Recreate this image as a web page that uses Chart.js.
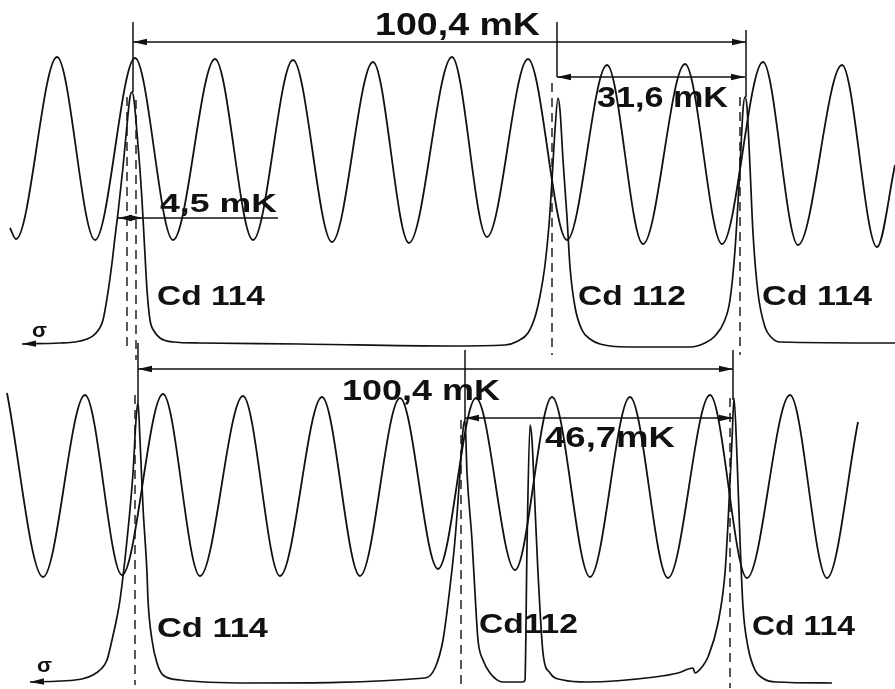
<!DOCTYPE html>
<html>
<head>
<meta charset="utf-8">
<script src="https://cdn.jsdelivr.net/npm/chart.js@4.4.1/dist/chart.umd.min.js"></script>
<style>
  html, body { margin: 0; padding: 0; background: #fff; overflow: hidden; }
  #wrap { width: 895px; height: 689px; position: relative; }
</style>
</head>
<body>
<div id="wrap"><canvas id="chart"></canvas></div>
<script>
// recorder trace (x = chart position, y = pen height, y grows downwards)

// Fabry-Perot fringes, top recording (start, then troughs and peaks alternately)
const topFringeX = [10, 16, 57, 95, 135, 173, 215, 253, 293, 332, 373, 409, 452, 487, 528, 567, 607, 643, 685, 722, 763, 798, 842, 877, 895];
const topFringeY = [228, 239, 57, 240, 58, 240, 59, 240, 60, 242, 62, 243, 57, 237, 59, 240, 65, 244, 64, 244, 62, 245, 65, 247, 165];

// Fabry-Perot fringes, bottom recording
const botFringeX = [7, 43, 85, 122, 163, 200, 243, 280, 322, 360, 400, 438, 476, 515, 552, 590, 630, 668, 710, 747, 790, 827, 858];
const botFringeY = [393, 577, 395, 575, 394, 576, 396, 576, 397, 576, 398, 569, 398, 570, 397, 577, 397, 578, 395, 578, 395, 578, 422];

// Cd line profile, top recording (Cd 114, Cd 112, Cd 114)
const topLineX = [22, 60, 75, 87, 95, 103, 108, 112, 115, 118, 123, 127, 130, 132, 134, 137, 140, 142, 145, 147, 150,
                  154, 160, 173, 200, 300, 450, 505, 518, 528, 535, 540, 545, 549, 552, 555, 558, 560, 563, 567, 570,
                  575, 582, 590, 600, 628, 690, 705, 715, 724, 730, 735, 740, 743, 745, 747, 750, 753, 758, 765, 771,
                  780, 895];
const topLineY = [344, 343, 342, 339, 334, 320, 292, 263, 237, 213, 167, 125, 97, 92, 100, 133, 170, 200, 255, 290, 320,
                  331, 338, 342, 343, 344, 346, 345, 341, 333, 317, 296, 265, 225, 180, 130, 98, 110, 160, 217, 267,
                  307, 330, 339, 344, 347, 347, 343, 336, 322, 300, 250, 167, 110, 97, 107, 167, 233, 293, 327, 337,
                  342, 343];

// Cd line profile, bottom recording
const botLineX = [30, 60, 82, 93, 101, 107, 112, 117, 120, 127, 133, 136, 138, 140, 143, 147, 148, 152, 157, 163, 180,
                  250, 425, 435, 443, 450, 455, 460, 463, 465, 467, 472, 475, 478, 483, 490, 503, 523, 525, 527, 530,
                  532, 535, 538, 540, 543, 550, 563, 587, 655, 678, 693, 695, 702, 708, 718, 725, 728, 732, 734, 737,
                  740, 743, 748, 755, 764, 776, 832];
const botLineY = [682, 681, 679, 675, 669, 660, 640, 617, 600, 540, 473, 420, 402, 440, 507, 573, 600, 640, 663, 675, 680,
                  683, 678, 668, 640, 587, 540, 473, 430, 420, 473, 540, 593, 640, 660, 673, 682, 682, 680, 547, 425,
                  440, 507, 573, 610, 653, 673, 680, 682, 677, 673, 668, 673, 667, 657, 623, 573, 523, 440, 398, 457,
                  540, 607, 647, 670, 679, 682, 683];

// dashed line centres
const dashX = [127, 136, 552, 740, 135, 461, 730];
const dashFrom = [97, 100, 83, 97, 395, 420, 398];
const dashTo = [352, 360, 355, 355, 685, 690, 688];

// solid reference marks
const markX = [133, 557, 746, 138, 465, 733];
const markFrom = [22, 22, 30, 343, 350, 350];
const markTo = [92, 77, 97, 402, 420, 400];

// dimension arrows
const dimY = [42, 77, 218, 369, 418];
const dimFrom = [133, 557, 118, 138, 465];
const dimTo = [746, 745, 143, 733, 733];

const INK = '#111';

function pts(xs, ys) {
    return xs.map((x, i) => ({ x: x, y: ys[i] }));
}

let datasets = [];
datasets.push({ data: pts(topFringeX, topFringeY), borderWidth: 1.8, cubicInterpolationMode: 'monotone' });
datasets.push({ data: pts(botFringeX, botFringeY), borderWidth: 1.8, cubicInterpolationMode: 'monotone' });
datasets.push({ data: pts(topLineX, topLineY), borderWidth: 1.7, cubicInterpolationMode: 'monotone', heads: ['start'] });
datasets.push({ data: pts(botLineX, botLineY), borderWidth: 1.7, cubicInterpolationMode: 'monotone', heads: ['start'] });

dashX.forEach((x, i) => {
    datasets.push({ data: [{ x: x, y: dashFrom[i] }, { x: x, y: dashTo[i] }], borderWidth: 1.4, borderDash: [9, 6] });
});
markX.forEach((x, i) => {
    datasets.push({ data: [{ x: x, y: markFrom[i] }, { x: x, y: markTo[i] }], borderWidth: 1.5 });
});
dimY.forEach((y, i) => {
    datasets.push({ data: [{ x: dimFrom[i], y: y }, { x: dimTo[i], y: y }], borderWidth: 1.6, heads: ['start', 'end'] });
});
// leader of the 4,5 mK width
datasets.push({ data: [{ x: dimTo[2], y: dimY[2] }, { x: 278, y: dimY[2] }], borderWidth: 1.6 });

datasets.forEach(d => {
    d.showLine = true;
    d.pointRadius = 0;
    d.borderColor = INK;
    d.clip = false;
});

// text: left x, baseline y, font size, width on paper
const notes = [
    { t: '100,4 mK', x: 375, y: 35, s: 32, w: 165 },
    { t: '31,6 mK', x: 597, y: 107, s: 30, w: 131 },
    { t: '4,5 mK', x: 160, y: 212, s: 25, w: 117 },
    { t: 'Cd 114', x: 157, y: 305, s: 28, w: 108 },
    { t: 'Cd 112', x: 578, y: 305, s: 28, w: 108 },
    { t: 'Cd 114', x: 762, y: 305, s: 28, w: 110 },
    { t: '100,4 mK', x: 342, y: 400, s: 30, w: 158 },
    { t: '46,7mK', x: 545, y: 447, s: 30, w: 130 },
    { t: 'Cd 114', x: 157, y: 637, s: 28, w: 111 },
    { t: 'Cd112', x: 479, y: 633, s: 28, w: 99 },
    { t: 'Cd 114', x: 752, y: 635, s: 28, w: 103 },
    { t: 'σ', x: 32, y: 337, s: 20, w: 15 },
    { t: 'σ', x: 37, y: 672, s: 20, w: 15 }
];

const decor = {
    id: 'decor',
    afterDatasetsDraw(chart) {
        const ctx = chart.ctx;
        const xs = chart.scales.x, ys = chart.scales.y;
        ctx.save();
        ctx.fillStyle = INK;
        // arrowheads
        chart.data.datasets.forEach((d, i) => {
            if (!d.heads) return;
            const el = chart.getDatasetMeta(i).data;
            d.heads.forEach(h => {
                const tip = h === 'start' ? el[0] : el[el.length - 1];
                const nb = h === 'start' ? el[1] : el[el.length - 2];
                const a = Math.atan2(tip.y - nb.y, tip.x - nb.x);
                ctx.save();
                ctx.translate(tip.x, tip.y);
                ctx.rotate(a);
                ctx.beginPath();
                ctx.moveTo(0, 0);
                ctx.lineTo(-14, -3.2);
                ctx.lineTo(-14, 3.2);
                ctx.closePath();
                ctx.fill();
                ctx.restore();
            });
        });
        // labels
        ctx.textBaseline = 'alphabetic';
        ctx.textAlign = 'left';
        notes.forEach(n => {
            ctx.font = 'bold ' + n.s + 'px "Liberation Sans", Arial, sans-serif';
            const w = ctx.measureText(n.t).width;
            ctx.save();
            ctx.translate(xs.getPixelForValue(n.x), ys.getPixelForValue(n.y));
            ctx.scale(n.w / w, 1);
            ctx.fillText(n.t, 0, 0);
            ctx.restore();
        });
        ctx.restore();
    }
};

new Chart(document.getElementById('chart'), {
    type: 'scatter',
    data: { datasets: datasets },
    options: {
        responsive: true,
        maintainAspectRatio: false,
        animation: false,
        layout: { padding: 0 },
        scales: {
            x: { type: 'linear', min: 0, max: 895, display: false },
            y: { type: 'linear', min: 0, max: 689, reverse: true, display: false }
        },
        plugins: { legend: { display: false }, tooltip: { enabled: false } }
    },
    plugins: [decor]
});
</script>
</body>
</html>
